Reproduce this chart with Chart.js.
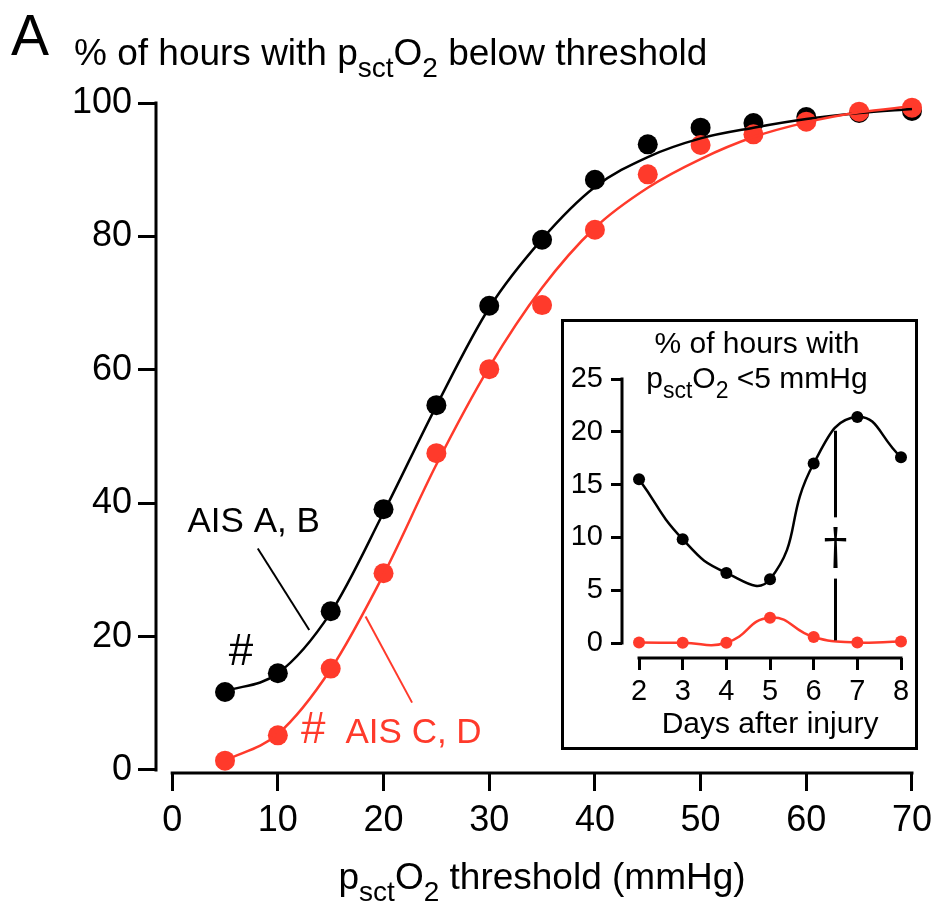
<!DOCTYPE html>
<html>
<head>
<meta charset="utf-8">
<script src="https://cdn.jsdelivr.net/npm/chart.js@4.4.1/dist/chart.umd.min.js"></script>
<style>
html,body{margin:0;padding:0;background:#fff;}
#wrap{position:relative;width:940px;height:906px;overflow:hidden;}
#main{position:absolute;left:0;top:0;}
#insetBox{position:absolute;left:561px;top:319px;width:357px;height:431px;border:3px solid #000;box-sizing:border-box;background:#fff;}
#inset{position:absolute;left:0;top:0;}
</style>
</head>
<body>
<div id="wrap">
  <canvas id="main" width="940" height="906"></canvas>
  <div id="insetBox"><canvas id="inset" width="351" height="425"></canvas></div>
</div>
<script>
// ---------- main panel data ----------
const thresholds = [5,10,15,20,25,30,35,40,45,50,55,60,65,70];
const aisAB = [11.7,14.5,23.8,39.1,54.7,69.6,79.5,88.5,93.8,96.3,97.0,97.9,98.5,98.8];
const aisCD = [1.4,5.2,15.2,29.5,47.5,60.1,69.7,81.0,89.3,93.7,95.3,97.2,98.7,99.3];
// fitted curves as they appear in the picture
const fitAB = [11.8,14.5,23.6,38.6,54.6,69.3,79.6,87.4,91.9,94.7,96.3,97.6,98.5,99.1];
const fitCD = [1.4,5.4,15.1,29.3,45.8,60.4,72.3,81.3,87.3,91.6,94.9,97.1,98.6,99.5];
const xTicks = [0,10,20,30,40,50,60,70];
const yTicks = [0,20,40,60,80,100];

// ---------- inset data ----------
const days = [2,3,4,5,6,7,8];
const insetAB = [15.5,9.83,6.64,6.04,17.0,21.4,17.6];
const insetCD = [0.05,0.02,0.03,2.4,0.57,0.05,0.15];
const dayTicks = [2,3,4,5,6,7,8];
const insetYTicks = [0,5,10,15,20,25];
const deathDay = 6.5;

// ---------- texts ----------
const panelLetter = 'A';
const mainTitle = [{t:'% of hours with p'},{t:'sct',sub:1},{t:'O'},{t:'2',sub:1},{t:' below threshold'}];
const xTitle = [{t:'p'},{t:'sct',sub:1},{t:'O'},{t:'2',sub:1},{t:' threshold (mmHg)'}];
const insetTitle1 = [{t:'% of hours with'}];
const insetTitle2 = [{t:'p'},{t:'sct',sub:1},{t:'O'},{t:'2',sub:1},{t:' <5 mmHg'}];
const insetXTitle = [{t:'Days after injury'}];
const labelAB = 'AIS A, B';
const labelCD = 'AIS C, D';
const hashMark = '#';
const dagger = '\u2020';

const BLACK = '#000000';
const RED = '#ff3a2b';
const FAMILY = '"Liberation Sans", Arial, Helvetica, sans-serif';
Chart.defaults.font.family = FAMILY;
Chart.defaults.color = '#000';

function richText(ctx, parts, x, y, size, align, color) {
  const sub = Math.round(size * 0.75), drop = size * 0.33;
  let w = 0;
  parts.forEach(p => { ctx.font = (p.sub ? sub : size) + 'px ' + FAMILY; p.w = ctx.measureText(p.t).width; w += p.w; });
  let cx = align === 'center' ? x - w / 2 : (align === 'right' ? x - w : x);
  ctx.save();
  ctx.fillStyle = color; ctx.textAlign = 'left'; ctx.textBaseline = 'alphabetic';
  parts.forEach(p => { ctx.font = (p.sub ? sub : size) + 'px ' + FAMILY; ctx.fillText(p.t, cx, y + (p.sub ? drop : 0)); cx += p.w; });
  ctx.restore();
}

function axisLines(chart, xVals, yVals, lw) {
  const ctx = chart.ctx, xs = chart.scales.x, ys = chart.scales.y, a = chart.chartArea;
  ctx.save();
  ctx.strokeStyle = BLACK; ctx.lineWidth = lw; ctx.lineCap = 'butt';
  ctx.beginPath();
  ctx.moveTo(a.left, ys.getPixelForValue(yVals[0]) + lw / 2);
  ctx.lineTo(a.left, ys.getPixelForValue(yVals[yVals.length - 1]) - lw / 2);
  ctx.stroke();
  ctx.beginPath();
  ctx.moveTo(xs.getPixelForValue(xVals[0]) - lw / 2, a.bottom);
  ctx.lineTo(xs.getPixelForValue(xVals[xVals.length - 1]) + lw / 2, a.bottom);
  ctx.stroke();
  ctx.restore();
}

const pts = (xs, ys) => xs.map((x, i) => ({x, y: ys[i]}));

// ---------- main chart ----------
const mainPlugin = {
  id: 'mainDecor',
  beforeDatasetsDraw(chart) { axisLines(chart, xTicks, yTicks, 3); },
  afterDraw(chart) {
    const ctx = chart.ctx, xs = chart.scales.x, ys = chart.scales.y;
    const X = v => xs.getPixelForValue(v), Y = v => ys.getPixelForValue(v);
    ctx.save();
    ctx.fillStyle = BLACK; ctx.textBaseline = 'alphabetic'; ctx.textAlign = 'left';
    ctx.font = '57px ' + FAMILY;
    ctx.fillText(panelLetter, 11, 55);
    ctx.restore();
    richText(ctx, mainTitle, 74, 65, 37, 'left', BLACK);
    richText(ctx, xTitle, (X(xTicks[0]) + X(xTicks[xTicks.length - 1])) / 2, 889, 37, 'center', BLACK);
    // annotations
    ctx.save();
    ctx.textBaseline = 'alphabetic'; ctx.textAlign = 'left';
    ctx.fillStyle = BLACK;
    ctx.font = '35px ' + FAMILY;
    ctx.fillText(labelAB, X(1.45), Y(35.7));
    ctx.font = '44px ' + FAMILY;
    ctx.fillText(hashMark, X(5.35), Y(15.7));
    ctx.fillStyle = RED;
    ctx.fillText(hashMark, X(12.2), Y(4.0));
    ctx.font = '35px ' + FAMILY;
    ctx.fillText(labelCD, X(16.4), Y(4.0));
    ctx.lineWidth = 2;
    ctx.strokeStyle = BLACK;
    ctx.beginPath(); ctx.moveTo(X(8.1), Y(33.2)); ctx.lineTo(X(12.97), Y(21.0)); ctx.stroke();
    ctx.strokeStyle = RED;
    ctx.beginPath(); ctx.moveTo(X(18.3), Y(23.0)); ctx.lineTo(X(22.7), Y(10.1)); ctx.stroke();
    ctx.restore();
  }
};

new Chart(document.getElementById('main'), {
  type: 'line',
  data: {
    datasets: [
      {label:'fit C,D', data: pts(thresholds, fitCD), borderColor: RED, borderWidth: 2.5, pointRadius: 0, cubicInterpolationMode: 'monotone', order: 1, clip: false},
      {label:'fit A,B', data: pts(thresholds, fitAB), borderColor: BLACK, borderWidth: 2.5, pointRadius: 0, cubicInterpolationMode: 'monotone', order: 2, clip: false},
      {label:'AIS C, D', data: pts(thresholds, aisCD), showLine: false, pointRadius: 10, pointBackgroundColor: RED, pointBorderWidth: 0, order: 3, clip: false},
      {label:'AIS A, B', data: pts(thresholds, aisAB), showLine: false, pointRadius: 10, pointBackgroundColor: BLACK, pointBorderWidth: 0, order: 4, clip: false}
    ]
  },
  options: {
    responsive: false, animation: false, devicePixelRatio: 1,
    layout: {padding: {left: 0, top: 103, right: 24, bottom: 0}},
    plugins: {legend: {display: false}, tooltip: {enabled: false}},
    scales: {
      x: {
        type: 'linear', min: -1.53, max: 70,
        afterBuildTicks: s => { s.ticks = xTicks.map(v => ({value: v})); },
        afterFit: s => { s.height = 133; },
        grid: {display: true, drawOnChartArea: false, drawTicks: true, tickLength: 18, lineWidth: 3, color: BLACK},
        border: {display: false},
        ticks: {font: {size: 36}, color: BLACK, padding: 8, maxRotation: 0, autoSkip: false}
      },
      y: {
        type: 'linear', min: -0.45, max: 100,
        afterBuildTicks: s => { s.ticks = yTicks.map(v => ({value: v})); },
        afterFit: s => { s.width = 156; },
        grid: {display: true, drawOnChartArea: false, drawTicks: true, tickLength: 18, lineWidth: 3, color: BLACK},
        border: {display: false},
        ticks: {font: {size: 36}, color: BLACK, padding: 6, autoSkip: false}
      }
    }
  },
  plugins: [mainPlugin]
});

// ---------- inset chart ----------
const insetPlugin = {
  id: 'insetDecor',
  beforeDatasetsDraw(chart) { axisLines(chart, dayTicks, insetYTicks, 3); },
  afterDraw(chart) {
    const ctx = chart.ctx, xs = chart.scales.x, ys = chart.scales.y;
    const X = v => xs.getPixelForValue(v), Y = v => ys.getPixelForValue(v);
    // canvas origin is at page (564,322)
    richText(ctx, insetTitle1, 757 - 564, 353 - 322, 30, 'center', BLACK);
    richText(ctx, insetTitle2, 757 - 564, 388 - 322, 30, 'center', BLACK);
    richText(ctx, insetXTitle, (X(dayTicks[0]) + X(dayTicks[dayTicks.length - 1])) / 2, 733 - 322, 30, 'center', BLACK);
    ctx.save();
    ctx.strokeStyle = BLACK; ctx.lineWidth = 3;
    ctx.beginPath(); ctx.moveTo(X(deathDay), Y(20.1)); ctx.lineTo(X(deathDay), Y(11.9)); ctx.stroke();
    ctx.beginPath(); ctx.moveTo(X(deathDay), Y(6.1)); ctx.lineTo(X(deathDay), Y(0.25)); ctx.stroke();
    ctx.fillStyle = BLACK; ctx.textAlign = 'center'; ctx.textBaseline = 'middle';
    ctx.font = '48px "DejaVu Serif", "Liberation Serif", serif';
    ctx.fillText(dagger, X(deathDay), Y(8.8));
    ctx.restore();
  }
};

new Chart(document.getElementById('inset'), {
  type: 'line',
  data: {
    datasets: [
      {label:'AIS C, D', data: pts(days, insetCD), borderColor: RED, borderWidth: 2.5, pointRadius: 6, pointBackgroundColor: RED, pointBorderWidth: 0, tension: 0.5, order: 1, clip: false},
      {label:'AIS A, B', data: pts(days, insetAB), borderColor: BLACK, borderWidth: 2.5, pointRadius: 6, pointBackgroundColor: BLACK, pointBorderWidth: 0, tension: 0.5, order: 2, clip: false}
    ]
  },
  options: {
    responsive: false, animation: false, devicePixelRatio: 1,
    layout: {padding: {left: 0, top: 57, right: 14, bottom: 0}},
    plugins: {legend: {display: false}, tooltip: {enabled: false}},
    scales: {
      x: {
        type: 'linear', min: 1.61, max: 8,
        afterBuildTicks: s => { s.ticks = dayTicks.map(v => ({value: v})); },
        afterFit: s => { s.height = 89; },
        grid: {display: true, drawOnChartArea: false, drawTicks: true, tickLength: 12, lineWidth: 3, color: BLACK},
        border: {display: false},
        ticks: {font: {size: 29}, color: BLACK, padding: 5, maxRotation: 0, autoSkip: false}
      },
      y: {
        type: 'linear', min: -1.42, max: 25,
        afterBuildTicks: s => { s.ticks = insetYTicks.map(v => ({value: v})); },
        afterFit: s => { s.width = 58; },
        grid: {display: true, drawOnChartArea: false, drawTicks: true, tickLength: 11, lineWidth: 3, color: BLACK},
        border: {display: false},
        ticks: {font: {size: 29}, color: BLACK, padding: 8, autoSkip: false}
      }
    }
  },
  plugins: [insetPlugin]
});
</script>
</body>
</html>
